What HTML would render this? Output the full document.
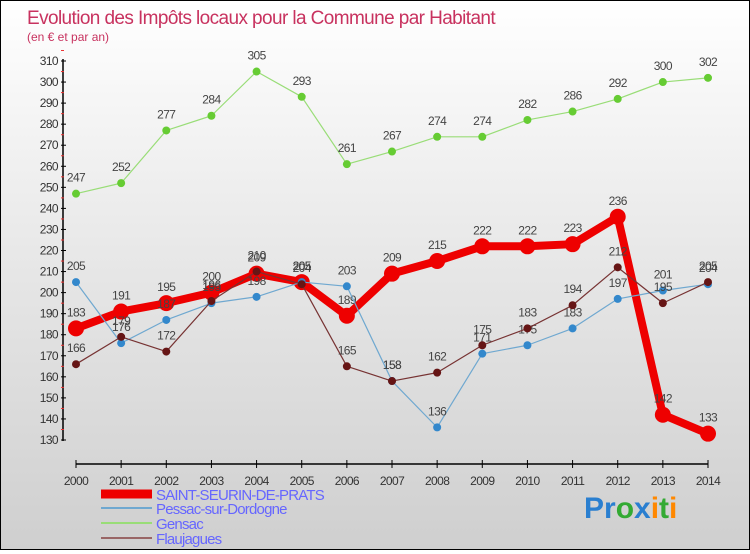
<!DOCTYPE html>
<html><head><meta charset="utf-8"><style>
body{margin:0;width:750px;height:550px;overflow:hidden;font-family:"Liberation Sans",sans-serif}
#wrap{position:relative;width:748px;height:548px;border:1px solid #000;background:linear-gradient(#fff 0%,#e6e6e6 50%,#cfcfcf 100%)}
</style></head><body>
<div id="wrap">
<svg id="chart" width="748" height="548" xmlns="http://www.w3.org/2000/svg">
<text x="26" y="23" font-size="19" fill="#c8325f" letter-spacing="-0.6">Evolution des Impôts locaux pour la Commune par Habitant</text>
<text x="26" y="40" font-size="12" fill="#c8325f">(en € et par an)</text>
<g id="axes"></g><g id="series"></g>
<g>
<line x1="100" y1="493" x2="151" y2="493" stroke="#ee0000" stroke-width="9"/>
<text x="155" y="499" font-size="15" fill="#6666ff" letter-spacing="-0.8">SAINT-SEURIN-DE-PRATS</text>
<line x1="100" y1="507" x2="151" y2="507" stroke="#6fa8d0" stroke-width="2"/>
<text x="155" y="513" font-size="15" fill="#6666ff" letter-spacing="-0.8">Pessac-sur-Dordogne</text>
<line x1="100" y1="522" x2="151" y2="522" stroke="#99dd77" stroke-width="2"/>
<text x="155" y="528" font-size="15" fill="#6666ff" letter-spacing="-0.8">Gensac</text>
<line x1="100" y1="537" x2="151" y2="537" stroke="#996666" stroke-width="2"/>
<text x="155" y="543" font-size="15" fill="#6666ff" letter-spacing="-0.8">Flaujagues</text>
</g>
<text x="583" y="517" font-size="30" font-weight="bold"><tspan fill="#2a7fd0">Pr</tspan><tspan fill="#33aa33">o</tspan><tspan fill="#2a7fd0">x</tspan><tspan fill="#ff8800">i</tspan><tspan fill="#33aa33">t</tspan><tspan fill="#ff8800">i</tspan></text>
</svg></div>
<script>
const years=[2000,2001,2002,2003,2004,2005,2006,2007,2008,2009,2010,2011,2012,2013,2014];
const yTicks=[130,140,150,160,170,180,190,200,210,220,230,240,250,260,270,280,290,300,310];
const saintSeurin=[183,191,195,200,209,205,189,209,215,222,222,223,236,142,133];
const pessac=[205,176,187,195,198,205,203,158,136,171,175,183,197,201,204];
const gensac=[247,252,277,284,305,293,261,267,274,274,282,286,292,300,302];
const flaujagues=[166,179,172,196,210,204,165,158,162,175,183,194,212,195,205];
const NS="http://www.w3.org/2000/svg";
function xs(i){return 75+i*(632/14);}
function ys(v){return 439-(v-130)*(379/180);}
function mk(t,a,p){const e=document.createElementNS(NS,t);for(const k in a)e.setAttribute(k,a[k]);p.appendChild(e);return e;}
const ax=document.getElementById('axes');
const yl=mk('line',{x1:62,y1:58,x2:62,y2:440,stroke:'#000','stroke-width':1.5},ax);


yTicks.forEach(v=>{
  const y=ys(v);
  mk('line',{x1:60,y1:y,x2:65,y2:y,stroke:'#000'},ax);
  mk('line',{x1:60,y1:y-10.5,x2:63,y2:y-10.5,stroke:'#e33'},ax);
  const t=mk('text',{x:57,y:y+4,'font-size':12,'text-anchor':'end',fill:'#333','letter-spacing':'-0.6'},ax);
  t.textContent=v;
  
  
});
const xl=mk('line',{x1:75,y1:463,x2:707,y2:463,stroke:'#000','stroke-width':1.5},ax);


years.forEach((yr,i)=>{
  const x=xs(i);
  mk('line',{x1:x,y1:459,x2:x,y2:467,stroke:'#000'},ax);
  const t=mk('text',{x:x,y:484,'font-size':12,'text-anchor':'middle',fill:'#333','letter-spacing':'-0.6'},ax);
  t.textContent=yr;
  
  
});
const sg=document.getElementById('series');
function draw(data,name,color,w,r,dot){
  const g=mk('g',{},sg);
  
  
  const pl=mk('polyline',{points:data.map((v,i)=>xs(i)+','+ys(v)).join(' '),fill:'none',stroke:color,'stroke-width':w,'stroke-linejoin':'round'},g);
  
  
  data.forEach((v,i)=>{
    const c=mk('circle',{cx:xs(i),cy:ys(v),r:r,fill:dot},g);
    
    
    const t=mk('text',{x:xs(i),y:ys(v)-12,'font-size':12,'text-anchor':'middle',fill:'#444','letter-spacing':'-0.6'},g);
    t.textContent=v;
    
    
  });
}
draw(saintSeurin,'saint-seurin','#ee0000',8,8,'#ee0000');
draw(pessac,'pessac','#6fa8d0',1.2,4,'#3388cc');
draw(gensac,'gensac','#99dd77',1.2,4,'#66cc33');
draw(flaujagues,'flaujagues','#773333',1.2,4,'#661515');
</script>
</body></html>
